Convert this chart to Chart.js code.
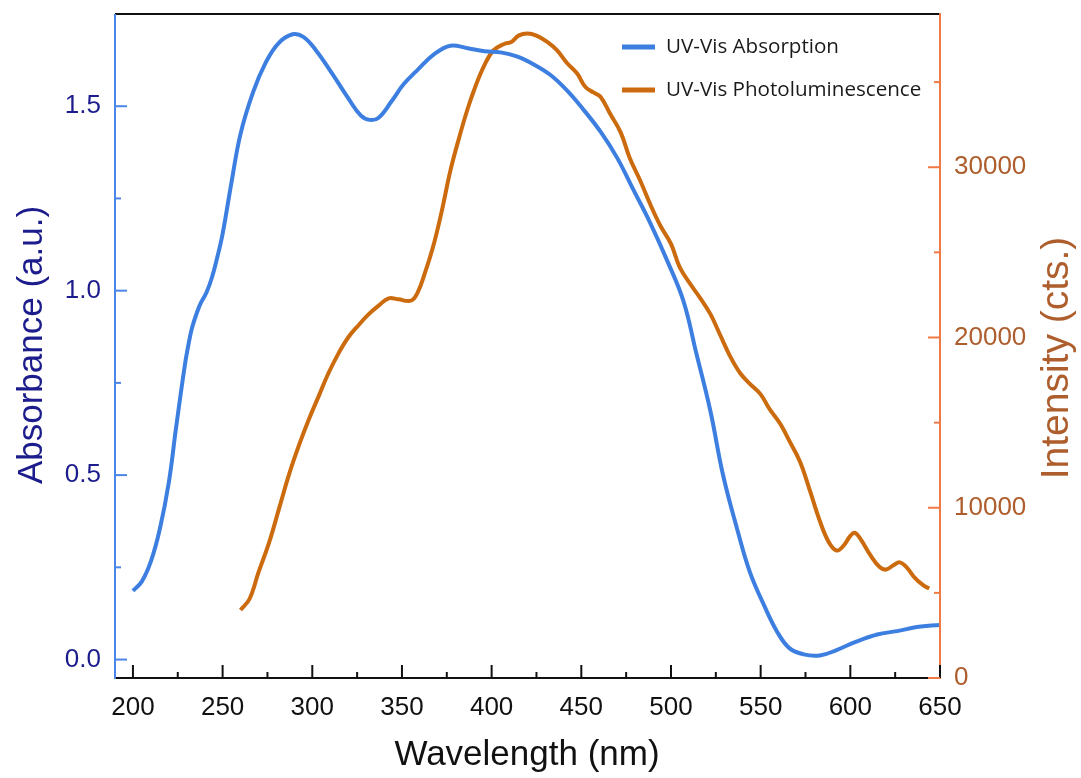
<!DOCTYPE html>
<html>
<head>
<meta charset="utf-8">
<script src="https://cdn.jsdelivr.net/npm/chart.js@4.4.1/dist/chart.umd.min.js"></script>
<style>
  html, body { margin:0; padding:0; background:#fff; }
  #wrap { width:1081px; height:778px; }
</style>
</head>
<body>
<div id="wrap"><canvas id="uvChart" width="1081" height="778"></canvas></div>
<script>
// absorption spectrum (left axis)
const absNm  = [200,205,210,215,220,224,229,231,233,236,238,241,244,247,250,255,260,267,274,281,289,295,302,311,320,327,332,337,344,351,359,368,377,386,396,405,414,424,433,442,451,461,470,479,488,498,507,514,522,529,537,544,552,559,566,574,583,592,603,615,626,637,650]
const absVal = [0.186,0.212,0.266,0.354,0.48,0.627,0.80,0.855,0.90,0.945,0.968,0.995,1.035,1.09,1.154,1.295,1.425,1.538,1.618,1.67,1.695,1.688,1.652,1.589,1.522,1.475,1.463,1.469,1.512,1.56,1.60,1.641,1.664,1.658,1.649,1.646,1.635,1.612,1.584,1.543,1.492,1.429,1.36,1.274,1.188,1.08,0.971,0.833,0.673,0.501,0.352,0.237,0.146,0.077,0.031,0.014,0.011,0.025,0.048,0.068,0.077,0.088,0.094]

// photoluminescence (right axis)
const plNm  = [260,265,270,276,281.5,287,292.6,298,304,309,315,320,326,331.5,337,342.6,348,355,358.6,363,368,372.5,377,382,386.5,391,396,401,407,411,415,420,425,431,436.5,442,447.7,452.3,457,460.7,466,472,477,483,488.5,494,500,505,511,516,522,527.5,533,538.6,544,550,555,561,566,572,577.6,583,588,592.4,596,600,602.6,606,611,616.5,620,624,627.6,631.4,636,640.6,644]
const plVal = [4000,4640,6200,7980,9960,11950,13680,15170,16660,17900,19140,20000,20750,21370,21870,22300,22240,22160,22610,23850,25580,27570,29800,31780,33390,34760,36000,36860,37240,37360,37730,37860,37730,37360,36860,36120,35500,34710,34380,34140,33150,32030,30540,29180,27810,26580,25500,24100,23100,22360,21370,20130,18890,17900,17280,16660,15790,14920,13930,12690,10960,9220,7980,7490,7740,8350,8530,8110,7240,6500,6370,6620,6790,6500,5880,5450,5260]

// ticks
const xMajor = [200,250,300,350,400,450,500,550,600,650]
const xMinor = [225,275,325,375,425,475,525,575,625]
const yMajor = [0,0.5,1.0,1.5]
const yMinor = [0.25,0.75,1.25]
const y2Major = [0,10000,20000,30000]
const y2Minor = [5000,15000,25000,35000]

const BLUE = '#3d7fe0'
const ORANGE = '#cc6a0e'
const LEFT_AX = '#4a86e8'
const RIGHT_AX = '#f07a45'
const NAVY = '#1c1c8c'
const BROWN = '#ad5e2c'
const tickFont = { family:'"Liberation Sans", Arial, sans-serif', size:26 }

function noPad(s) {
  s.paddingTop = 0; s.paddingBottom = 0; s.paddingLeft = 0; s.paddingRight = 0
}

const frame = {
  id: 'frame',
  afterDatasetsDraw(chart) {
    const { ctx, chartArea: a, scales } = chart
    const x = scales.x, y = scales.y, y2 = scales.y2
    ctx.save()
    ctx.lineCap = 'butt'
    // axis lines
    ctx.lineWidth = 2
    ctx.strokeStyle = '#111'
    ctx.beginPath(); ctx.moveTo(a.left, a.top); ctx.lineTo(a.right, a.top); ctx.stroke()
    ctx.beginPath(); ctx.moveTo(a.left, a.bottom); ctx.lineTo(a.right, a.bottom); ctx.stroke()
    ctx.strokeStyle = LEFT_AX
    ctx.beginPath(); ctx.moveTo(a.left, a.top); ctx.lineTo(a.left, a.bottom + 1); ctx.stroke()
    ctx.strokeStyle = RIGHT_AX
    ctx.beginPath(); ctx.moveTo(a.right, a.top - 1); ctx.lineTo(a.right, a.bottom + 1); ctx.stroke()

    // inward ticks
    ctx.strokeStyle = '#111'
    xMajor.forEach(v => { const p = x.getPixelForValue(v); ctx.beginPath(); ctx.moveTo(p, a.bottom); ctx.lineTo(p, a.bottom - 13); ctx.stroke() })
    xMinor.forEach(v => { const p = x.getPixelForValue(v); ctx.beginPath(); ctx.moveTo(p, a.bottom); ctx.lineTo(p, a.bottom - 6); ctx.stroke() })
    ctx.strokeStyle = LEFT_AX
    yMajor.forEach(v => { const p = y.getPixelForValue(v); ctx.beginPath(); ctx.moveTo(a.left, p); ctx.lineTo(a.left + 12, p); ctx.stroke() })
    yMinor.forEach(v => { const p = y.getPixelForValue(v); ctx.beginPath(); ctx.moveTo(a.left, p); ctx.lineTo(a.left + 6, p); ctx.stroke() })
    ctx.strokeStyle = RIGHT_AX
    y2Major.forEach(v => { const p = y2.getPixelForValue(v); ctx.beginPath(); ctx.moveTo(a.right, p); ctx.lineTo(a.right - 12, p); ctx.stroke() })
    y2Minor.forEach(v => { const p = y2.getPixelForValue(v); ctx.beginPath(); ctx.moveTo(a.right, p); ctx.lineTo(a.right - 6, p); ctx.stroke() })

    // axis titles
    ctx.textAlign = 'center'
    ctx.textBaseline = 'middle'
    ctx.fillStyle = '#111'
    ctx.font = '35px "Liberation Sans", Arial, sans-serif'
    ctx.fillText('Wavelength (nm)', 527, 755)
    ctx.save()
    ctx.translate(32, 345); ctx.rotate(-Math.PI / 2)
    ctx.fillStyle = NAVY
    ctx.font = '35px "Liberation Sans", Arial, sans-serif'
    ctx.fillText('Absorbance (a.u.)', 0, 0)
    ctx.restore()
    ctx.save()
    ctx.translate(1057, 358); ctx.rotate(-Math.PI / 2)
    ctx.fillStyle = BROWN
    ctx.font = '39px "Liberation Sans", Arial, sans-serif'
    ctx.fillText('Intensity (cts.)', 0, 0)
    ctx.restore()

    // legend
    ctx.textAlign = 'left'
    ctx.font = '20.6px "Open Sans", sans-serif'
    ctx.lineWidth = 5
    chart.data.datasets.forEach((ds, i) => {
      const ly = 47 + i * 43
      ctx.strokeStyle = ds.borderColor
      ctx.beginPath(); ctx.moveTo(622, ly); ctx.lineTo(655, ly); ctx.stroke()
      ctx.fillStyle = '#1a1a1a'
      ctx.fillText(ds.label, 666, ly)
    })
    ctx.restore()
  }
}

new Chart(document.getElementById('uvChart'), {
  type: 'line',
  data: {
    datasets: [
      { label:'UV-Vis Absorption', data: absNm.map((v, i) => ({ x:v, y:absVal[i] })), yAxisID:'y',
        borderColor:BLUE, borderWidth:4, pointRadius:0, tension:0.4, fill:false },
      { label:'UV-Vis Photoluminescence', data: plNm.map((v, i) => ({ x:v, y:plVal[i] })), yAxisID:'y2',
        borderColor:ORANGE, borderWidth:4, pointRadius:0, tension:0.4, fill:false }
    ]
  },
  options: {
    responsive: false,
    animation: false,
    layout: { padding: { top:14, left:0, right:0, bottom:0 } },
    plugins: { legend:{ display:false }, tooltip:{ enabled:false } },
    scales: {
      x: {
        type:'linear', min:190, max:650,
        afterBuildTicks: s => { s.ticks = xMajor.map(v => ({ value:v })) },
        afterFit: s => { s.height = 100; noPad(s) },
        grid:{ display:false, drawTicks:false }, border:{ display:false },
        ticks:{ color:'#111', font:tickFont, padding:14, maxRotation:0, autoSkip:false }
      },
      y: {
        position:'left', min:-0.05, max:1.75,
        afterBuildTicks: s => { s.ticks = yMajor.map(v => ({ value:v })) },
        afterFit: s => { s.width = 115; noPad(s) },
        grid:{ display:false, drawTicks:false }, border:{ display:false },
        ticks:{ color:NAVY, font:tickFont, padding:14, callback: v => v.toFixed(1) }
      },
      y2: {
        position:'right', min:0, max:39000,
        afterBuildTicks: s => { s.ticks = y2Major.map(v => ({ value:v })) },
        afterFit: s => { s.width = 141; noPad(s) },
        grid:{ display:false, drawTicks:false }, border:{ display:false },
        ticks:{ color:BROWN, font:tickFont, padding:14, callback: v => String(v) }
      }
    }
  },
  plugins: [frame]
})
</script>
</body>
</html>
